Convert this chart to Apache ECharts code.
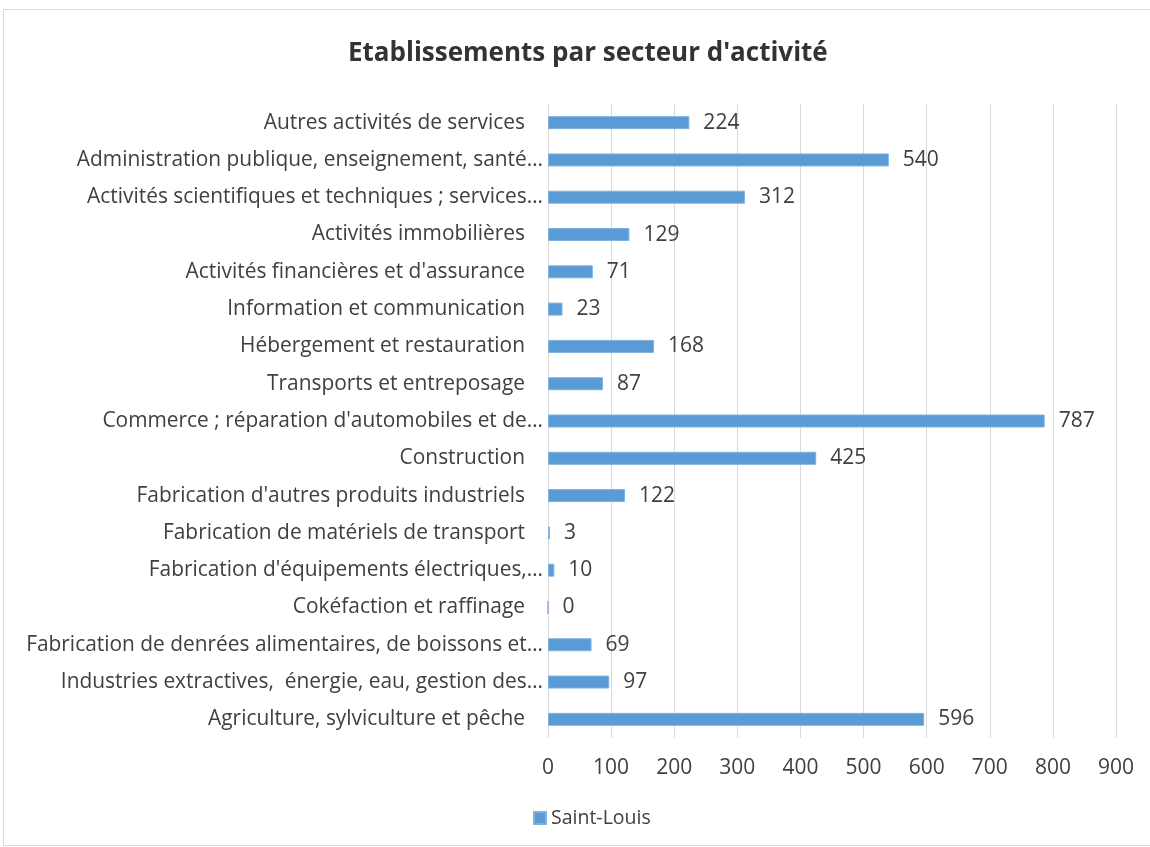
<!DOCTYPE html>
<html>
<head>
<meta charset="utf-8">
<script src="https://cdn.jsdelivr.net/npm/echarts@6/dist/echarts.min.js"></script>
<style>
  html, body { margin: 0; padding: 0; background: #fff; }
  #frame { position: absolute; left: 3px; top: 9px; width: 1150px; height: 837px; border: 1px solid #d9d9d9; box-sizing: border-box; }
  #chart { position: absolute; left: 0; top: 0; width: 1150px; height: 847px; }
</style>
</head>
<body>
<div id="frame"></div>
<div id="chart"></div>
<script>
// bottom to top, as the category axis draws them
const categories = [
  'Agriculture, sylviculture et pêche',
  'Industries extractives,  énergie, eau, gestion des…',
  'Fabrication de denrées alimentaires, de boissons et…',
  'Cokéfaction et raffinage',
  "Fabrication d'équipements électriques,…",
  'Fabrication de matériels de transport',
  "Fabrication d'autres produits industriels",
  'Construction',
  "Commerce ; réparation d'automobiles et de…",
  'Transports et entreposage',
  'Hébergement et restauration',
  'Information et communication',
  "Activités financières et d'assurance",
  'Activités immobilières',
  'Activités scientifiques et techniques ; services…',
  'Administration publique, enseignement, santé…',
  'Autres activités de services'
]
const saintLouis = [596, 97, 69, 0, 10, 3, 122, 425, 787, 87, 168, 23, 71, 129, 312, 540, 224]
const seriesName = 'Saint-Louis'

const font = 'Open Sans'
const textColor = '#404040'
const labelSize = 20.9

const chart = echarts.init(document.getElementById('chart'))
chart.setOption({
  animation: false,
  title: {
    text: "Etablissements par secteur d'activité",
    left: 343,
    top: 36,
    textStyle: { fontFamily: font, fontSize: 26, fontWeight: 'bold', color: '#333' }
  },
  legend: {
    bottom: 14,
    left: 528,
    itemWidth: 12,
    itemHeight: 12,
    itemGap: 4,
    icon: 'rect',
    textStyle: { fontFamily: font, fontSize: 19.5, color: textColor },
    data: [seriesName]
  },
  grid: { left: 548, right: 34, top: 104, bottom: 109, containLabel: false },
  xAxis: {
    type: 'value',
    min: 0,
    max: 900,
    interval: 100,
    axisLine: { show: false },
    axisTick: { show: false },
    axisLabel: { fontFamily: font, fontSize: 21, color: textColor, margin: 20 },
    splitLine: { lineStyle: { color: '#d9d9d9', width: 1 } }
  },
  yAxis: {
    type: 'category',
    data: categories,
    axisLine: { show: false },
    axisTick: { show: false },
    axisLabel: {
      fontFamily: font,
      fontSize: labelSize,
      color: textColor,
      margin: 5,
      // truncated labels reach closer to the axis, like Excel does
      formatter: (v) => v.endsWith('…') ? '{t|' + v + '}' : '{f|' + v + '}',
      rich: {
        t: { fontFamily: font, fontSize: labelSize, color: textColor },
        f: { fontFamily: font, fontSize: labelSize, color: textColor, padding: [0, 18, 0, 0] }
      }
    }
  },
  series: [{
    name: seriesName,
    type: 'bar',
    data: saintLouis,
    barWidth: 13,
    itemStyle: { color: '#5b9bd5', borderColor: '#7fb2e0', borderWidth: 1 },
    label: {
      show: true,
      position: 'right',
      distance: 14,
      fontFamily: font,
      fontSize: 21,
      color: textColor
    }
  }]
})
</script>
</body>
</html>
